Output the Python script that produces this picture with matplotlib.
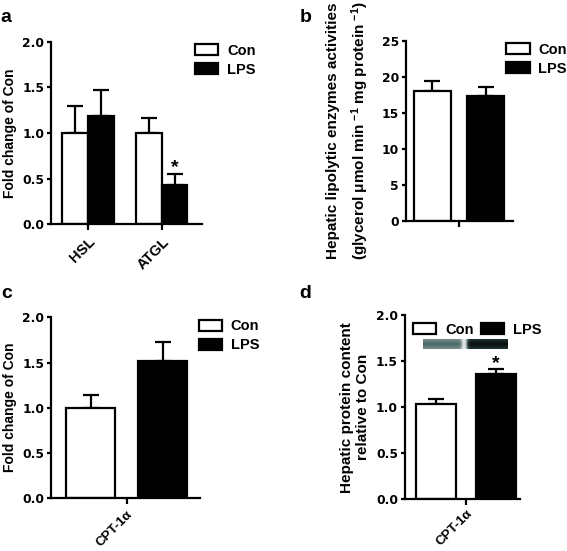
import numpy as np
import matplotlib
matplotlib.use('Agg')
import matplotlib.pyplot as plt
from matplotlib.patches import Patch
from matplotlib.colors import LinearSegmentedColormap

plt.rcParams['font.family'] = ['Liberation Sans', 'DejaVu Sans']
plt.rcParams['font.weight'] = 'bold'
plt.rcParams['axes.labelweight'] = 'bold'
plt.rcParams['mathtext.fontset'] = 'custom'
plt.rcParams['mathtext.rm'] = 'Liberation Sans:bold'
plt.rcParams['mathtext.default'] = 'rm'

# Данни
groups = ['Con', 'LPS']

a_genes = ['HSL', 'ATGL']
a_con = [1.00, 1.00]
a_con_err = [0.30, 0.16]
a_lps = [1.19, 0.43]
a_lps_err = [0.28, 0.12]

b_con, b_con_err = 18.1, 1.3
b_lps, b_lps_err = 17.4, 1.2

c_gene = 'CPT-1α'
c_con, c_con_err = 1.00, 0.14
c_lps, c_lps_err = 1.52, 0.21

d_gene = 'CPT-1α'
d_con, d_con_err = 1.04, 0.05
d_lps, d_lps_err = 1.36, 0.05

LW = 1.6
TICK_FS = 8.8
LAB_FS = 10
LEG_FS = 10.5


def style(ax):
    for s in ['top', 'right']:
        ax.spines[s].set_visible(False)
    for s in ['left', 'bottom']:
        ax.spines[s].set_linewidth(LW)
    ax.tick_params(axis='y', width=LW, length=3, pad=2)
    ax.tick_params(axis='x', width=LW, length=4)
    for t in ax.get_yticklabels():
        t.set_fontweight('bold')
        t.set_family('DejaVu Sans')
        t.set_fontsize(TICK_FS)


def bar(ax, x, h, err, w, dark):
    ax.bar(x, h, w, color='black' if dark else 'white', edgecolor='black',
           linewidth=LW, zorder=2)
    ax.errorbar(x, h, yerr=[[0], [err]], fmt='none', ecolor='black',
                elinewidth=LW, capsize=6, capthick=LW, zorder=1)


def legend(ax, x, y, ncol=1, **kw):
    handles = [Patch(facecolor='white', edgecolor='black', linewidth=LW),
               Patch(facecolor='black', edgecolor='black', linewidth=LW)]
    ax.legend(handles, groups, loc='upper left', bbox_to_anchor=(x, y),
              frameon=False, ncol=ncol, prop={'size': LEG_FS, 'weight': 'bold'},
              handlelength=1.6, handleheight=0.8, handletextpad=0.6,
              borderpad=0, borderaxespad=0, labelspacing=0.35, **kw)


fig = plt.figure(figsize=(5.67, 5.51), dpi=100)

# a
ax = fig.add_axes([0.090, 0.593, 0.266, 0.331])
w = 0.345
xs = np.arange(len(a_genes))
for i in range(len(a_genes)):
    bar(ax, xs[i] - w / 2, a_con[i], a_con_err[i], w, False)
    bar(ax, xs[i] + w / 2, a_lps[i], a_lps_err[i], w, True)
ax.text(xs[1] + w / 2, a_lps[1] + a_lps_err[1] - 0.02, '*', ha='center',
        va='bottom', fontsize=14, fontweight='bold')
ax.set_xlim(-0.5, 1.54)
ax.set_ylim(0, 2.0)
ax.set_yticks([0, 0.5, 1.0, 1.5, 2.0])
ax.set_yticklabels(['0.0', '0.5', '1.0', '1.5', '2.0'])
ax.set_xticks(xs)
ax.set_xticklabels(a_genes, rotation=45, ha='right', rotation_mode='anchor',
                   fontweight='bold', fontsize=10.5)
ax.set_ylabel('Fold change of Con', fontsize=LAB_FS, labelpad=4)
style(ax)
legend(ax, 0.955, 0.99)

# b
ax = fig.add_axes([0.716, 0.599, 0.189, 0.327])
w = 0.70
bar(ax, -0.5, b_con, b_con_err, w, False)
bar(ax, 0.5, b_lps, b_lps_err, w, True)
ax.set_xlim(-1.0, 1.02)
ax.set_ylim(0, 25)
ax.set_yticks([0, 5, 10, 15, 20, 25])
ax.set_xticks([0])
ax.set_xticklabels([''])
ax.set_ylabel('Hepatic lipolytic enzymes activities\n'
              '(glycerol μmol min $^{-1}$ mg protein $^{-1}$)',
              fontsize=11, labelpad=8, linespacing=1.6)
style(ax)
legend(ax, 0.935, 0.99)

# c
ax = fig.add_axes([0.090, 0.096, 0.263, 0.328])
w = 0.68
bar(ax, -0.5, c_con, c_con_err, w, False)
bar(ax, 0.5, c_lps, c_lps_err, w, True)
ax.set_xlim(-1.05, 1.02)
ax.set_ylim(0, 2.0)
ax.set_yticks([0, 0.5, 1.0, 1.5, 2.0])
ax.set_yticklabels(['0.0', '0.5', '1.0', '1.5', '2.0'])
ax.set_xticks([0])
ax.set_xticklabels([c_gene], rotation=45, ha='right', rotation_mode='anchor',
                   fontweight='bold', fontsize=9.5)
ax.set_ylabel('Fold change of Con', fontsize=LAB_FS, labelpad=4)
style(ax)
legend(ax, 0.99, 0.99)

# d
ax = fig.add_axes([0.714, 0.094, 0.203, 0.334])
w = 0.67
bar(ax, -0.5, d_con, d_con_err, w, False)
bar(ax, 0.5, d_lps, d_lps_err, w, True)
ax.text(0.5, d_lps + d_lps_err - 0.03, '*', ha='center', va='bottom',
        fontsize=14, fontweight='bold')
ax.set_xlim(-1.02, 0.9)
ax.set_ylim(0, 2.0)
ax.set_yticks([0, 0.5, 1.0, 1.5, 2.0])
ax.set_yticklabels(['0.0', '0.5', '1.0', '1.5', '2.0'])
ax.set_xticks([0])
ax.set_xticklabels([d_gene], rotation=45, ha='right', rotation_mode='anchor',
                   fontweight='bold', fontsize=9.5)
ax.tick_params(axis='x', pad=2)
ax.set_ylabel('Hepatic protein content\nrelative to Con', fontsize=11,
              labelpad=4, linespacing=1.2)
style(ax)
legend(ax, 0.07, 0.96, ncol=2, columnspacing=0.5)

# western blot (декорация)
bx = fig.add_axes([423 / 567, 1 - 349 / 551, 85 / 567, 10 / 551])
cols = np.linspace(0, 1, 85)
rows = np.linspace(-1, 1, 10)
band = np.where(cols < 0.48, 0.62, 0.97)
gap = 1 - 0.75 * np.exp(-((cols - 0.49) / 0.035) ** 2)
prof = 0.85 + 0.15 * np.exp(-(rows / 0.7) ** 2)
img = 1 - np.outer(prof, band * gap)
blot_cmap = LinearSegmentedColormap.from_list('blot', ['#050a0a', '#3d5a58', '#c8d2d0', '#ffffff'])
bx.imshow(img, cmap=blot_cmap, vmin=0, vmax=1, aspect='auto')
bx.axis('off')

# етикети на панелите
for lbl, x, y in [('a', 0.0, 0.952), ('b', 0.528, 0.952),
                  ('c', 0.003, 0.452), ('d', 0.528, 0.452)]:
    fig.text(x, y, lbl, fontsize=14, fontweight='bold', va='bottom')

fig.savefig('out.png', dpi=100)
